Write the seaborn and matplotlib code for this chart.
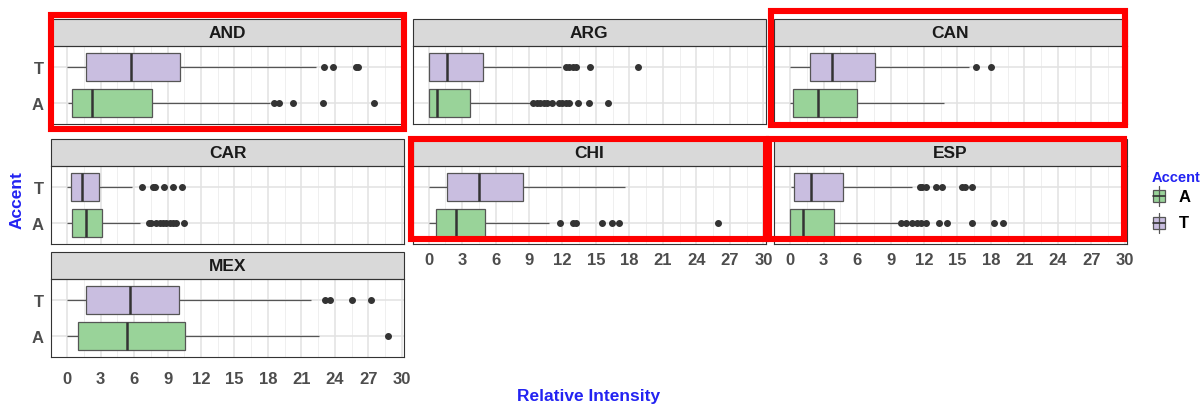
#boxplots da intensidade relativa por país e sotaque (A / T), em painéis estilo ggplot
import numpy as np
import pandas as pd
import matplotlib
matplotlib.use("Agg")
import matplotlib.pyplot as plt
from matplotlib.patches import Rectangle
from matplotlib.lines import Line2D
import seaborn as sns

sns.set_theme(style="white")
plt.rcParams["font.family"] = ["Liberation Sans", "DejaVu Sans"]
plt.rcParams["font.weight"] = "bold"

#dados: resumo de cinco números + outliers para cada grupo
paises = ["AND", "ARG", "CAN", "CAR", "CHI", "ESP", "MEX"]

min_A = [0.1, 0.0, 0.03, 0.0, 0.0, 0.0, 0.0]
q1_A = [0.4, 0.03, 0.24, 0.48, 0.63, 0.0, 0.98]
mediana_A = [2.25, 0.77, 2.47, 1.67, 2.5, 1.19, 5.33]
q3_A = [7.6, 3.75, 6.04, 3.13, 5.06, 3.95, 10.57]
max_A = [18.2, 9.2, 13.78, 6.55, 10.78, 9.7, 22.56]

min_T = [0.0, 0.0, 0.03, 0.03, 0.0, 0.12, 0.0]
q1_T = [1.7, 0.05, 1.82, 0.39, 1.61, 0.36, 1.67]
mediana_T = [5.7, 1.64, 3.75, 1.34, 4.56, 1.85, 5.68]
q3_T = [10.15, 4.9, 7.62, 2.86, 8.49, 4.76, 10.06]
max_T = [22.3, 11.9, 16.0, 5.8, 17.58, 10.95, 21.9]

outliers_A = {
    "AND": [18.5, 19.0, 20.2, 22.9, 27.5],
    "ARG": [9.4, 9.7, 10.0, 10.3, 10.6, 11.1, 11.7, 12.0, 12.3, 12.6, 13.4, 14.4, 16.1],
    "CAN": [],
    "CAR": [7.3, 7.5, 8.0, 8.3, 8.6, 8.9, 9.2, 9.5, 9.8, 10.5],
    "CHI": [11.8, 12.9, 13.2, 15.5, 16.4, 17.1, 25.9],
    "ESP": [9.9, 10.4, 10.9, 11.4, 11.7, 12.2, 13.3, 14.1, 16.3, 18.3, 19.1],
    "MEX": [28.75],
}
outliers_T = {
    "AND": [23.0, 23.8, 25.9, 26.1],
    "ARG": [12.3, 12.6, 12.9, 13.2, 14.5, 18.8],
    "CAN": [16.7, 18.0],
    "CAR": [6.7, 7.7, 7.9, 8.7, 9.5, 10.3],
    "CHI": [],
    "ESP": [11.6, 11.8, 12.2, 13.1, 13.6, 15.4, 15.7, 16.3],
    "MEX": [23.15, 23.6, 25.5, 27.2],
}

cores = {"A": "#99D399", "T": "#C9BEE0"}
azul = "#2323F2"

#monta amostras que reproduzem exatamente os quartis (4k+1 pontos)
linhas = []
for acento, mn, q1, md, q3, mx, outs in [
    ("A", min_A, q1_A, mediana_A, q3_A, max_A, outliers_A),
    ("T", min_T, q1_T, mediana_T, q3_T, max_T, outliers_T),
]:
    for i, p in enumerate(paises):
        k = len(outs[p]) + 1
        vals = [mn[i]] + [q1[i]] * k + [md[i]] * k + [q3[i]] * k + [mx[i]] + outs[p]
        linhas += [(p, acento, v) for v in vals]
df = pd.DataFrame(linhas, columns=["pais", "acento", "intensidade"])

#layout em pixels
W, H = 1200, 406
fig = plt.figure(figsize=(W / 100, H / 100), dpi=100)

def px(x, y, w, h):
    return [x / W, 1 - (y + h) / H, w / W, h / H]

col_x = [51, 412.5, 774]
strip_top = [20, 140, 253]
larg, strip_h, painel_h = 353, 27, 78

for i, p in enumerate(paises):
    r, c = divmod(i, 3)
    ax = fig.add_axes(px(col_x[c], strip_top[r] + strip_h, larg, painel_h))
    sns.boxplot(
        data=df[df.pais == p], x="intensidade", y="acento", hue="acento",
        order=["T", "A"], hue_order=["A", "T"], palette=cores, saturation=1,
        width=0.78, linecolor="#555555", linewidth=0.9, showcaps=False, fliersize=4,
        flierprops=dict(marker="o", markerfacecolor="#333333", markeredgecolor="#333333"),
        medianprops=dict(color="#333333", linewidth=1.8),
        legend=False, ax=ax,
    )
    ax.set_xlim(-1.44, 30.19)
    ax.set_ylim(1.6, -0.6)
    ax.set_xticks(range(0, 31, 3))
    ax.set_xticks(np.arange(1.5, 30, 3), minor=True)
    ax.set_axisbelow(True)
    ax.xaxis.grid(True, which="major", color="#E2E2E2", linewidth=1.1)
    ax.yaxis.grid(True, which="major", color="#E2E2E2", linewidth=1.1)
    ax.xaxis.grid(True, which="minor", color="#EFEFEF", linewidth=0.7)
    ax.set_xlabel("")
    ax.set_ylabel("")
    for s in ax.spines.values():
        s.set_color("#333333")
        s.set_linewidth(0.8)
    ax.tick_params(which="major", length=3, width=0.8, color="#333333",
                   labelsize=12, labelcolor="#4D4D4D", pad=2)
    ax.tick_params(which="minor", length=0)
    ax.tick_params(axis="x", pad=7 if r == 2 else 3)
    if i not in (4, 5, 6):
        ax.tick_params(axis="x", labelbottom=False, length=0)
    if c != 0:
        ax.tick_params(axis="y", labelleft=False, length=0)
    #faixa cinza com o nome do país
    sh = strip_h / painel_h
    ax.add_patch(Rectangle((0, 1), 1, sh, transform=ax.transAxes, clip_on=False,
                           facecolor="#D9D9D9", edgecolor="#333333", linewidth=0.8))
    ax.text(0.5, 1 + sh / 2, p, transform=ax.transAxes, ha="center", va="center",
            fontsize=12.5, color="#1A1A1A")

#títulos dos eixos
fig.text(17 / W, 1 - 200 / H, "Accent", rotation=90, ha="center", va="center",
         color=azul, fontsize=12.5)
fig.text(589 / W, 1 - 389 / H, "Relative Intensity", ha="center", va="top",
         color=azul, fontsize=12.5)

#legenda desenhada à mão (chave no formato de boxplot)
ax_leg = fig.add_axes(px(1145, 165, 55, 75))
ax_leg.set_xlim(0, 55)
ax_leg.set_ylim(75, 0)
ax_leg.axis("off")
ax_leg.text(7, 13, "Accent", color=azul, fontsize=10.5, ha="left", va="center")
for acento, yc in [("A", 32), ("T", 59)]:
    ax_leg.add_line(Line2D([14, 14], [yc - 10, yc + 10], color="#555555", linewidth=0.9))
    ax_leg.add_patch(Rectangle((8, yc - 6), 12, 12, facecolor=cores[acento],
                               edgecolor="#555555", linewidth=0.9))
    ax_leg.add_line(Line2D([8, 20], [yc, yc], color="#333333", linewidth=1.2))
    ax_leg.text(34, yc, acento, fontsize=12, ha="left", va="center", color="black")

#retângulos vermelhos de destaque (anotação feita à mão sobre a figura)
destaques = [(50.5, 15.5, 403.5, 129.5), (771, 12, 1124.5, 125.5),
             (411, 139.5, 765.5, 240), (768.5, 139.5, 1123.5, 240)]
for x0, y0, x1, y1 in destaques:
    fig.add_artist(Rectangle((x0 / W, 1 - y1 / H), (x1 - x0) / W, (y1 - y0) / H,
                             transform=fig.transFigure, fill=False,
                             edgecolor="red", linewidth=4.4, zorder=10))

fig.savefig("out.png", dpi=100)
